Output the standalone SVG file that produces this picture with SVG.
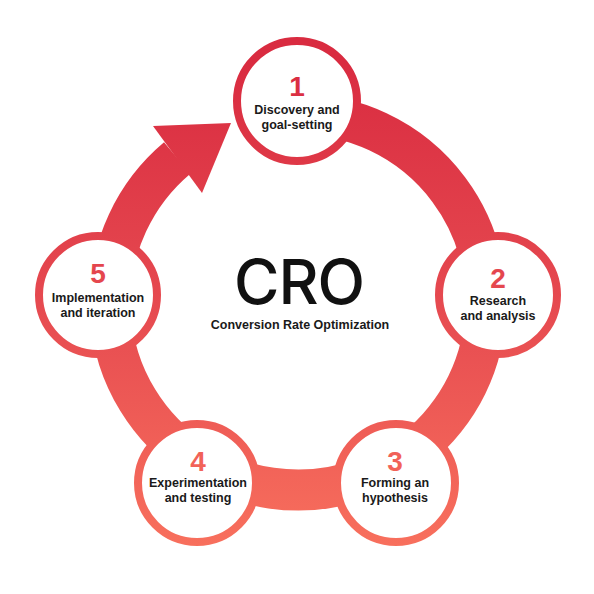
<svg xmlns="http://www.w3.org/2000/svg" width="594" height="594" viewBox="0 0 594 594">
<defs>
<linearGradient id="g" gradientUnits="userSpaceOnUse" x1="0" y1="60" x2="0" y2="550">
<stop offset="0" stop-color="#d92b40"/>
<stop offset="0.5" stop-color="#e64a50"/>
<stop offset="1" stop-color="#f8705d"/>
</linearGradient>
<style>
.node{fill:#ffffff;stroke:url(#g);stroke-width:8}
.num{font-family:"Liberation Sans",Arial,sans-serif;font-weight:bold;font-size:28px;fill:url(#g);text-anchor:middle}
.lbl{font-family:"Liberation Sans",Arial,sans-serif;font-weight:bold;font-size:12.5px;fill:#1a1a1a;text-anchor:middle}
</style>
</defs>
<rect width="594" height="594" fill="#ffffff"/>
<g id="connectors">
<path d="M 298 114 A 188 188 0 1 1 177.2 158" fill="none" stroke="url(#g)" stroke-width="41"/>
<polygon points="153,126 231,123 202,193" fill="url(#g)"/>
</g>
<g id="title">
<text x="299" y="304" font-family="Inter,'Liberation Sans',Arial,sans-serif" font-weight="500" font-size="62" fill="#111111" text-anchor="middle" letter-spacing="-1">CRO</text>
<text x="300" y="329" font-family="'Liberation Sans',Arial,sans-serif" font-weight="bold" font-size="12.5" fill="#1a1a1a" text-anchor="middle">Conversion Rate Optimization</text>
</g>
<g id="node1">
<circle class="node" cx="297" cy="101" r="60"/>
<text class="num" x="297" y="96">1</text>
<text class="lbl" x="297" y="114">Discovery and</text>
<text class="lbl" x="297" y="129">goal-setting</text>
</g>
<g id="node2">
<circle class="node" cx="498" cy="295" r="59"/>
<text class="num" x="498" y="288">2</text>
<text class="lbl" x="498" y="305">Research</text>
<text class="lbl" x="498" y="320">and analysis</text>
</g>
<g id="node3">
<circle class="node" cx="396" cy="483" r="59"/>
<text class="num" x="395" y="471">3</text>
<text class="lbl" x="395" y="487">Forming an</text>
<text class="lbl" x="395" y="502">hypothesis</text>
</g>
<g id="node4">
<circle class="node" cx="197" cy="483" r="59"/>
<text class="num" x="198" y="471">4</text>
<text class="lbl" x="198" y="487">Experimentation</text>
<text class="lbl" x="198" y="502">and testing</text>
</g>
<g id="node5">
<circle class="node" cx="98" cy="295" r="59"/>
<text class="num" x="98" y="283">5</text>
<text class="lbl" x="98" y="302">Implementation</text>
<text class="lbl" x="98" y="317">and iteration</text>
</g>
</svg>
